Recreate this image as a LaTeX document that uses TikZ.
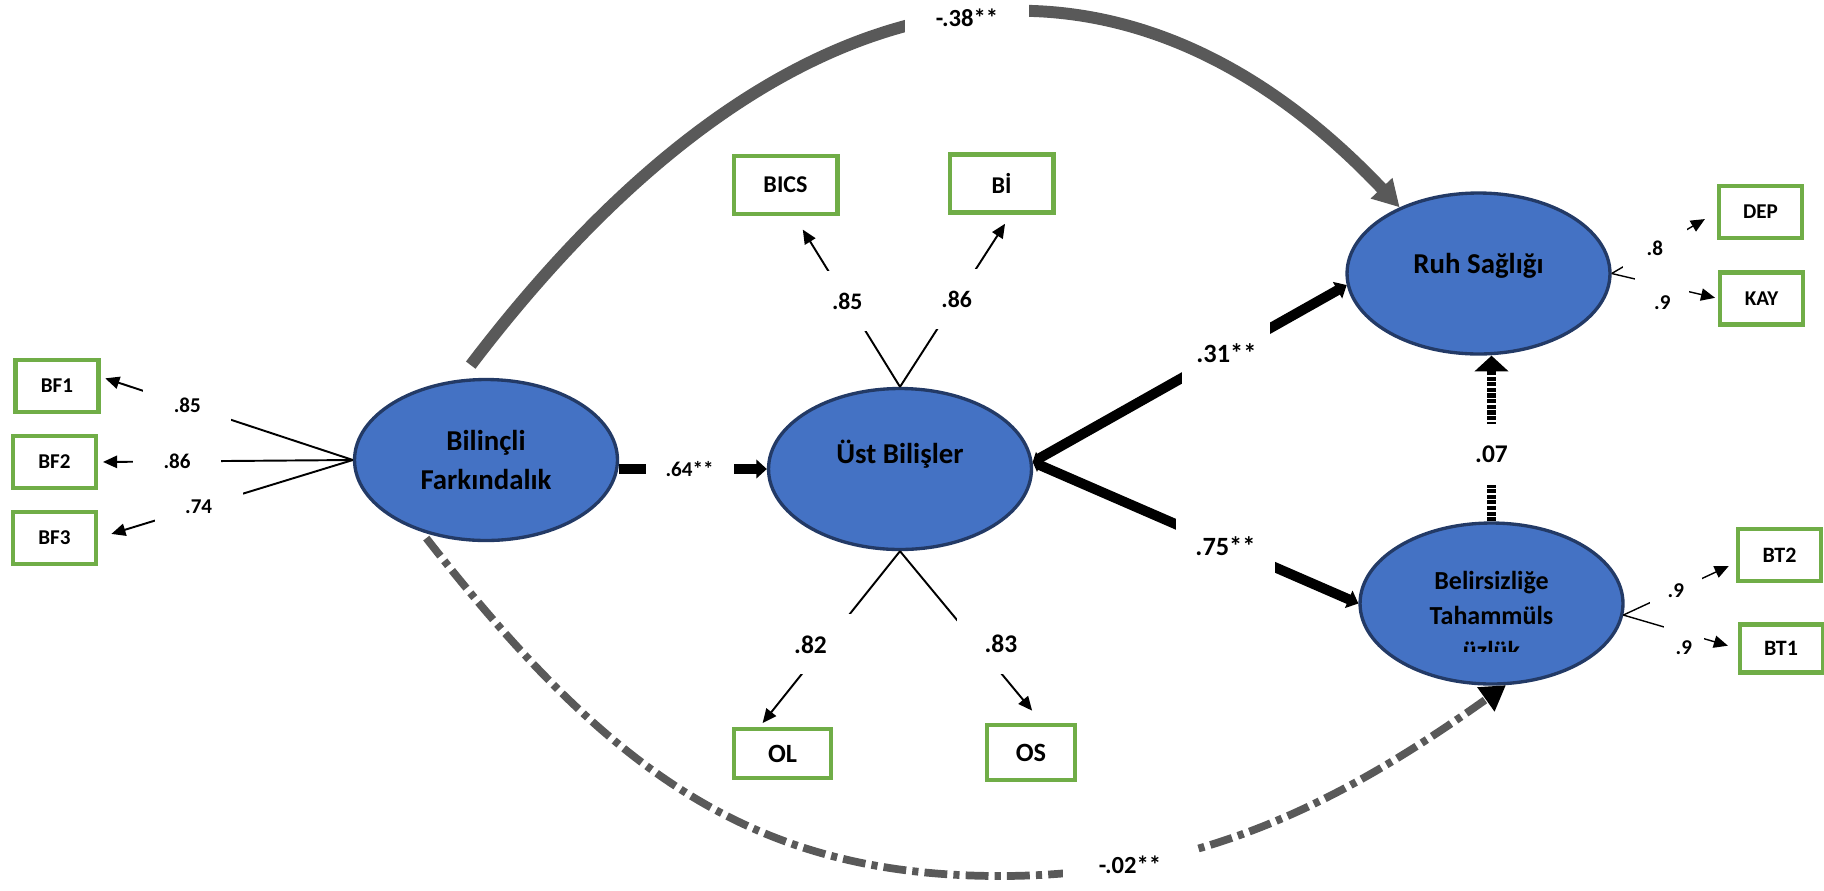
\documentclass[tikz,border=0pt]{standalone}
\usepackage{fontspec}
\setmainfont{Carlito}
\usetikzlibrary{arrows.meta,shapes.geometric,calc}
\definecolor{latblue}{RGB}{68,114,196}
\definecolor{latnavy}{RGB}{35,58,102}
\definecolor{obsgreen}{RGB}{112,173,71}
\definecolor{pathgray}{RGB}{89,89,89}
\tikzset{
  latent/.style={ellipse,draw=latnavy,fill=latblue,line width=1.9pt,minimum width=5.26cm,minimum height=3.22cm,
    align=center,inner sep=1pt,font=\bfseries\fontsize{16.4}{22.5}\selectfont},
  lattext/.style={align=center,inner sep=0pt,font=\bfseries\fontsize{14.8}{20}\selectfont},
  obs/.style={draw=obsgreen,fill=white,line width=2.3pt,minimum width=1.66cm,minimum height=1.04cm,
    inner sep=2pt,font=\bfseries\fontsize{12}{14}\selectfont},
  obswide/.style={obs,minimum width=2.08cm,minimum height=1.16cm,font=\bfseries\fontsize{13.7}{16}\selectfont},
  loading/.style={-{Triangle[length=8pt,width=7pt]},line width=1.1pt},
  strong/.style={-{Triangle[length=6pt,width=10.5pt]},line width=5.7pt},
  twoway/.style={{Triangle[length=4.5pt,width=8pt]}-{Triangle[length=6pt,width=10.5pt]},line width=5.7pt},
  weak/.style={-{Triangle[length=9pt,width=19pt]},line width=5.1pt,dash pattern=on 2.4pt off 0.8pt},
  direct/.style={-{Triangle[length=15pt,width=16pt]},line width=6.8pt,draw=pathgray},
  indirect/.style={-{Triangle[length=14pt,width=16pt,color=black]},line width=4.4pt,draw=pathgray,
    dash pattern=on 13pt off 3.5pt on 3.5pt off 3.5pt},
  coef/.style={fill=white,inner sep=0pt,minimum width=1.76cm,minimum height=1.2cm,
    font=\bfseries\fontsize{13.5}{16}\selectfont},
  coefs/.style={coef,minimum height=0.8cm,font=\bfseries\fontsize{12}{14}\selectfont},
  coefr/.style={coef,minimum width=1.08cm,minimum height=1cm,font=\bfseries\fontsize{12}{14}\selectfont}
}
\begin{document}
\begin{tikzpicture}[x=0.02cm,y=-0.02cm]
  \useasboundingbox (0,0) rectangle (1824,890);

  % latent variables
  \node[latent] (bil) at (486,460) {Bilinçli\\Farkındalık};
  \node[latent,text depth=20pt] (ust) at (900,469) {Üst Bilişler};
  \node[latent,text depth=11pt] (ruh) at (1478.5,273.5) {Ruh Sağlığı};
  \node[latent] (bel) at (1491.5,603.5) {};
  \begin{scope}
    \clip ($(bel.center)+(-130,-78)$) rectangle ($(bel.center)+(130,47.5)$);
    \node[lattext] (beltxt) at ($(bel.center)+(0,12)$) {Belirsizliğe\\Tahammüls\\üzlük};
  \end{scope}

  % indicators
  \node[obs] (bf1) at (57,386) {BF1};
  \node[obs] (bf2) at (54.5,462) {BF2};
  \node[obs] (bf3) at (54.5,538) {BF3};
  \node[obswide] (bics) at (785.5,185) {BICS};
  \node[obswide] (bi) at (1001.5,183.5) {Bİ};
  \node[obs,minimum width=1.94cm,minimum height=0.98cm,font=\bfseries\fontsize{15}{17}\selectfont] (ol) at (782.5,753.5) {OL};
  \node[obs,minimum width=1.76cm,minimum height=1.1cm,font=\bfseries\fontsize{15}{17}\selectfont] (os) at (1031,752.5) {OS};
  \node[obs] (dep) at (1760.5,212) {DEP};
  \node[obs] (kay) at (1761.5,298.5) {KAY};
  \node[obs,font=\bfseries\fontsize{12.5}{14}\selectfont] (bt2) at (1779.5,555) {BT2};
  \node[obs,minimum height=0.96cm,font=\bfseries\fontsize{12.5}{14}\selectfont] (bt1) at (1781,648.5) {BT1};

  % loadings
  \draw[loading,shorten >=0.1cm] (bil.west) -- node[coefs,pos=.656]{.85} (bf1.12);
  \draw[loading,shorten >=0.1cm] (bil.west) -- node[coefs,pos=.69]{.86} (bf2.east);
  \draw[loading,shorten >=0.28cm] (bil.west) -- node[coefs,pos=.605]{.74} (bf3.east);
  \draw[loading,shorten >=0.32cm] (ust.north) -- node[coef,pos=.5]{.85} (bics.286);
  \draw[loading,shorten >=0.22cm] (ust.north) -- node[coef,pos=.51]{.86} (bi.287);
  \draw[loading,shorten >=0.1cm] (ust.south) -- node[coef,pos=.53,xshift=-0.3cm,font=\bfseries\fontsize{14.5}{17}\selectfont]{.82} (ol.131);
  \draw[loading,shorten >=0.32cm] (ust.south) -- node[coef,pos=.54,xshift=0.48cm,font=\bfseries\fontsize{14.5}{17}\selectfont]{.83} (os.69);
  \draw[loading,line width=0.8pt,shorten >=0.28cm] (ruh.east) -- node[coefr,minimum width=1.28cm,pos=.41]{.8} (dep.west);
  \draw[loading,line width=0.8pt,shorten >=0.06cm] (ruh.east) -- node[coefr,minimum height=1.2cm,pos=.476,yshift=-0.34cm]{.9} (kay.west);
  \draw[loading,line width=0.8pt,shorten >=0.16cm] (bel.355) -- node[coefr,minimum width=1.04cm,pos=.466]{.9} (bt2.190);
  \draw[loading,line width=0.8pt,shorten >=0.2cm] (bel.355) -- node[coefr,minimum width=0.8cm,minimum height=1.2cm,pos=.53,yshift=-0.3cm]{.9} (bt1.west);

  % structural paths
  \draw[strong] (bil.east |- ust.west) -- node[coef,pos=.477,minimum height=0.8cm,font=\bfseries\fontsize{12}{14}\selectfont]{.64**} (ust.west);
  \draw[twoway] (ust.3) -- node[coef,pos=.617,minimum height=1.24cm,font=\bfseries\fontsize{15}{17}\selectfont]{.31**} (ruh.185);
  \draw[twoway] (ust.3) -- node[coef,pos=.592,minimum width=2cm,minimum height=1.1cm,font=\bfseries\fontsize{15}{17}\selectfont]{.75**} (bel.west);
  \draw[weak] (bel.north) -- node[coef,pos=.403,minimum width=1cm,minimum height=1.22cm,font=\bfseries\fontsize{14.5}{17}\selectfont]{.07} (bel.north |- ruh.south);
  \draw[direct,shorten <=0.36cm] (bil.108) .. controls (788,-52) and (1120,-88) ..
    node[coef,pos=.52,minimum width=2.5cm,minimum height=0.88cm,font=\bfseries\fontsize{14}{16}\selectfont]{-.38**} (ruh.140);
  \draw[indirect,shorten <=0.16cm] (bil.228) .. controls (606,768) and (750,876) .. (1000,876)
    .. controls (1200,876) and (1343,801) ..
    node[coef,pos=.23,minimum width=2.68cm,minimum height=0.88cm,font=\bfseries\fontsize{14}{16}\selectfont]{-.02**} (bel.280);
\end{tikzpicture}
\end{document}
